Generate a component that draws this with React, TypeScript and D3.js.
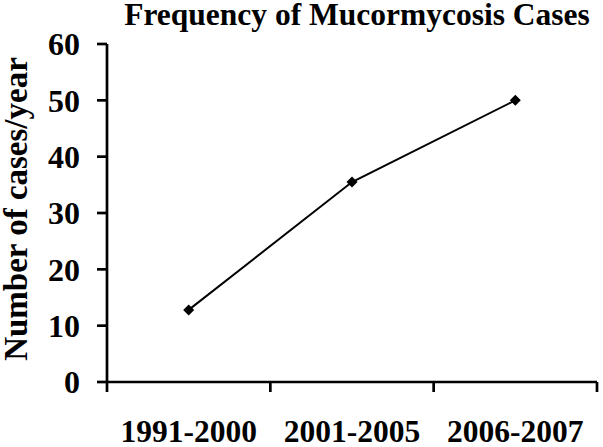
import React from "react";
import * as d3 from "d3";

const categories = ["1991-2000", "2001-2005", "2006-2007"];
const values = [12.8, 35.5, 50];
const yTicks = [0, 10, 20, 30, 40, 50, 60];
const title = "Frequency of Mucormycosis Cases";
const yLabel = "Number of cases/year";

export default function App() {
  const W = 603, H = 447;
  const left = 107, right = 597, top = 44, bottom = 382;
  const x = d3.scaleBand<string>().domain(categories).range([left, right]);
  const y = d3.scaleLinear().domain([0, 60]).range([bottom, top]);
  const line = d3.line<number>()
    .x((_, i) => (x(categories[i]) as number) + x.bandwidth() / 2)
    .y((d) => y(d));
  const font = "'Liberation Serif', 'Times New Roman', serif";
  const bounds = [...categories.map((c) => x(c) as number), right];
  return (
    <svg width={W} height={H} style={{ position: "absolute", left: 0, top: 0, background: "#fff" }}>
      <text x={357} y={25} textAnchor="middle" fontFamily={font} fontWeight="bold" fontSize={31.5}>{title}</text>
      <text transform={`translate(27,209) rotate(-90)`} textAnchor="middle" fontFamily={font} fontWeight="bold" fontSize={33}>{yLabel}</text>
      <line x1={left} x2={left} y1={top} y2={bottom} stroke="#000" strokeWidth={2.7} />
      <line x1={left} x2={right} y1={bottom} y2={bottom} stroke="#000" strokeWidth={2.7} />
      {yTicks.map((t) => (
        <g key={t}>
          <line x1={left - 10} x2={left} y1={y(t)} y2={y(t)} stroke="#000" strokeWidth={2.7} />
          <text x={80} y={y(t)} dy="0.35em" textAnchor="end" fontFamily={font} fontWeight="bold" fontSize={32}>{t}</text>
        </g>
      ))}
      {bounds.map((b, i) => (
        <line key={i} x1={b} x2={b} y1={bottom} y2={bottom + 10} stroke="#000" strokeWidth={2.7} />
      ))}
      {categories.map((c) => (
        <text key={c} x={(x(c) as number) + x.bandwidth() / 2} y={442} textAnchor="middle" fontFamily={font} fontWeight="bold" fontSize={31.5}>{c}</text>
      ))}
      <path d={line(values) || ""} fill="none" stroke="#000" strokeWidth={2} />
      {values.map((v, i) => {
        const cx = (x(categories[i]) as number) + x.bandwidth() / 2;
        const cy = y(v);
        const s = 5.5;
        return <path key={i} d={`M${cx},${cy - s}L${cx + s},${cy}L${cx},${cy + s}L${cx - s},${cy}Z`} fill="#000" />;
      })}
    </svg>
  );
}
